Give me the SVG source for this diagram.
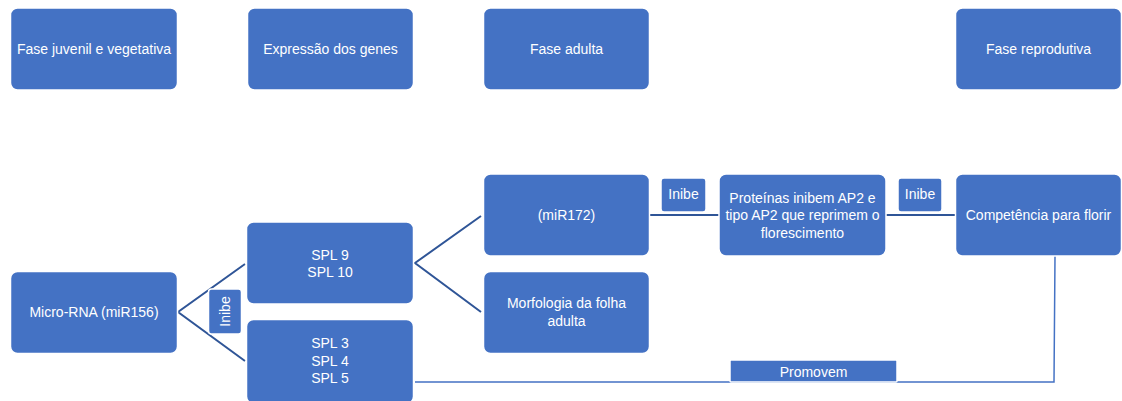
<svg xmlns="http://www.w3.org/2000/svg" width="1122" height="401" viewBox="0 0 1122 401">
<style>
.box{fill:#4472C4;stroke:#ffffff;stroke-width:1.5}
.lbl{fill:#ffffff;font-family:"Liberation Sans",Arial,sans-serif;font-size:14px;text-anchor:middle;dominant-baseline:central}
.con{stroke:#2F5597;stroke-width:2;fill:none}
.con2{stroke:#4472C4;stroke-width:1.5;fill:none}
</style>
<rect width="1122" height="401" fill="#ffffff"/>
<g id="connectors">
<polyline class="con" points="245,264 178,312 245,361"/>
<polyline class="con" points="481,216 415,263 481,312"/>
<line class="con" x1="650" y1="215" x2="719" y2="215"/>
<line class="con" x1="886" y1="215" x2="956" y2="215"/>
<polyline class="con2" points="1055,256 1054,382 415,382"/>
</g>
<g id="n-juvenil"><rect class="box" x="10.5" y="8" width="167" height="82" rx="7"/><text class="lbl" x="94" y="49">Fase juvenil e vegetativa</text></g>
<g id="n-expressao"><rect class="box" x="247.5" y="8" width="166" height="82" rx="7"/><text class="lbl" x="330.5" y="49">Expressão dos genes</text></g>
<g id="n-adulta"><rect class="box" x="483.5" y="8" width="166" height="82" rx="7"/><text class="lbl" x="566.5" y="49">Fase adulta</text></g>
<g id="n-reprodutiva"><rect class="box" x="955.5" y="8" width="166" height="82" rx="7"/><text class="lbl" x="1038.5" y="49">Fase reprodutiva</text></g>
<g id="n-micro"><rect class="box" x="10.5" y="271.5" width="167" height="82" rx="7"/><text class="lbl" x="94" y="312">Micro-RNA (miR156)</text></g>
<g id="n-spl910"><rect class="box" x="246.5" y="222" width="167" height="82" rx="7"/><text class="lbl" x="330" y="255">SPL 9</text><text class="lbl" x="330" y="272">SPL 10</text></g>
<g id="n-spl345"><rect class="box" x="246.5" y="319.5" width="167" height="84" rx="7"/><text class="lbl" x="330" y="343">SPL 3</text><text class="lbl" x="330" y="361">SPL 4</text><text class="lbl" x="330" y="378">SPL 5</text></g>
<g id="n-inibe1"><rect class="box" x="208.5" y="289" width="33" height="45" rx="3"/><text class="lbl" transform="translate(225,311.5) rotate(-90)">Inibe</text></g>
<g id="n-mir172"><rect class="box" x="483.5" y="174" width="166" height="82" rx="7"/><text class="lbl" x="566.5" y="215">(miR172)</text></g>
<g id="n-morfologia"><rect class="box" x="483.5" y="271.5" width="166" height="82" rx="7"/><text class="lbl" x="566.5" y="303">Morfologia da folha</text><text class="lbl" x="566.5" y="321">adulta</text></g>
<g id="n-inibe2"><rect class="box" x="661" y="178" width="45" height="34" rx="3"/><text class="lbl" x="683.5" y="194">Inibe</text></g>
<g id="n-proteinas"><rect class="box" x="719" y="174" width="167" height="82" rx="7"/><text class="lbl" x="802.5" y="198">Proteínas inibem AP2 e</text><text class="lbl" x="802.5" y="215">tipo AP2 que reprimem o</text><text class="lbl" x="802.5" y="233">florescimento</text></g>
<g id="n-inibe3"><rect class="box" x="898" y="178" width="44" height="34" rx="3"/><text class="lbl" x="920" y="194">Inibe</text></g>
<g id="n-competencia"><rect class="box" x="955.5" y="174" width="166" height="82" rx="7"/><text class="lbl" x="1038.5" y="215">Competência para florir</text></g>
<g id="n-promovem"><rect class="box" x="730" y="360" width="167" height="22" rx="1"/><text class="lbl" x="813.5" y="372">Promovem</text></g>
</svg>
